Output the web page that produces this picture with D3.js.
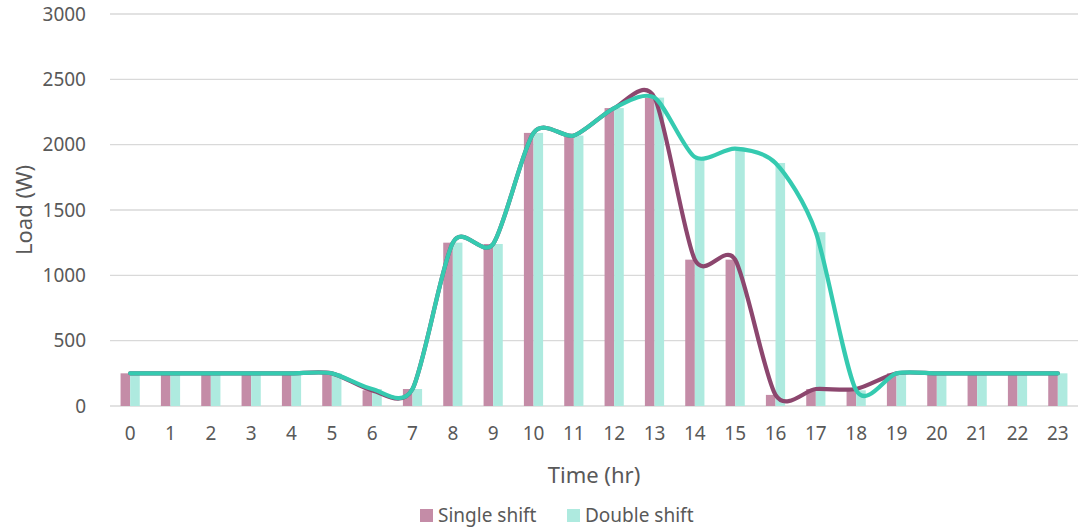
<!DOCTYPE html>
<html>
<head>
<meta charset="utf-8">
<script src="https://cdn.jsdelivr.net/npm/d3@7"></script>
<style>
  html, body { margin: 0; padding: 0; background: #fff; }
  svg { display: block; font-family: "Noto Sans", "DejaVu Sans", sans-serif; }
</style>
</head>
<body>
<svg id="chart" width="1081" height="528"></svg>
<script>
// Hourly load profile for single- and double-shift operation
const hours = d3.range(0, 24).map(String);
const singleShift = [250, 250, 250, 250, 250, 250, 120, 130, 1250, 1240, 2090, 2070,
                     2280, 2360, 1120, 1120, 85, 130, 130, 250, 250, 250, 250, 250];
const doubleShift = [250, 250, 250, 250, 250, 250, 130, 130, 1250, 1240, 2090, 2070,
                     2280, 2360, 1905, 1970, 1860, 1330, 120, 250, 250, 250, 250, 250];
const seriesNames = ["Single shift", "Double shift"];
const yTicks = [0, 500, 1000, 1500, 2000, 2500, 3000];

const barColors = ["#c48ca7", "#aeeadf"];
const lineColors = ["#8c466e", "#35cab0"];
const textColor = "#595959";

const margin = { left: 110, right: 1078, top: 14, bottom: 406 };
const svg = d3.select("#chart");

const x = d3.scaleBand()
  .domain(hours)
  .range([margin.left, margin.right])
  .paddingInner(0.524)
  .paddingOuter(0.262);
const xSub = d3.scaleBand()
  .domain(seriesNames)
  .range([0, x.bandwidth()]);
const y = d3.scaleLinear().domain([0, 3000]).range([margin.bottom, margin.top]);

// Horizontal gridlines
svg.append("g")
  .selectAll("line")
  .data(yTicks)
  .join("line")
  .attr("x1", margin.left)
  .attr("x2", margin.right)
  .attr("y1", d => y(d))
  .attr("y2", d => y(d))
  .attr("stroke", "#d9d9d9")
  .attr("stroke-width", 1.3);

// Y axis labels
const yAxis = d3.axisLeft(y).tickValues(yTicks).tickFormat(d3.format("d")).tickSize(0).tickPadding(0);
svg.append("g")
  .attr("transform", "translate(86,0)")
  .call(yAxis)
  .call(g => g.select(".domain").remove())
  .call(g => g.selectAll("text")
    .attr("fill", textColor)
    .style("font-size", "19px")
    .style("font-family", "\"Noto Sans\", sans-serif"));

// X axis labels
const xAxis = d3.axisBottom(x).tickSize(0).tickPadding(0);
svg.append("g")
  .attr("transform", "translate(0,426)")
  .call(xAxis)
  .call(g => g.select(".domain").remove())
  .call(g => g.selectAll("text")
    .attr("fill", textColor)
    .style("font-size", "19px")
    .style("font-family", "\"Noto Sans\", sans-serif"));

// Clustered bars
const seriesData = [singleShift, doubleShift];
seriesNames.forEach((name, si) => {
  svg.append("g")
    .selectAll("rect")
    .data(seriesData[si])
    .join("rect")
    .attr("x", (d, i) => x(hours[i]) + xSub(name))
    .attr("y", d => y(d))
    .attr("width", xSub.bandwidth())
    .attr("height", d => y(0) - y(d))
    .attr("fill", barColors[si]);
});

// Smoothed lines over the bars
const line = d3.line()
  .x((d, i) => x(hours[i]) + x.bandwidth() / 2)
  .y(d => y(d))
  .curve(d3.curveCardinal.tension(0.2));

seriesNames.forEach((name, si) => {
  svg.append("path")
    .datum(seriesData[si])
    .attr("d", line)
    .attr("fill", "none")
    .attr("stroke", lineColors[si])
    .attr("stroke-width", 4.2)
    .attr("stroke-linecap", "round")
    .attr("stroke-linejoin", "round");
});

// Axis titles
svg.append("text")
  .attr("x", (margin.left + margin.right) / 2)
  .attr("y", 483)
  .attr("text-anchor", "middle")
  .attr("fill", textColor)
  .style("font-size", "22px")
  .text("Time (hr)");

svg.append("text")
  .attr("transform", `translate(32,${(margin.top + margin.bottom) / 2}) rotate(-90)`)
  .attr("text-anchor", "middle")
  .attr("fill", textColor)
  .style("font-size", "22px")
  .text("Load (W)");

// Legend
const legend = svg.append("g").attr("transform", "translate(420,0)");
const legendOffsets = [0, 147];
seriesNames.forEach((name, si) => {
  const g = legend.append("g").attr("transform", `translate(${legendOffsets[si]},0)`);
  g.append("rect")
    .attr("x", 0).attr("y", 509)
    .attr("width", 13).attr("height", 13)
    .attr("fill", barColors[si]);
  g.append("text")
    .attr("x", 18).attr("y", 522)
    .attr("fill", textColor)
    .style("font-size", "19px")
    .text(name);
});
</script>
</body>
</html>
